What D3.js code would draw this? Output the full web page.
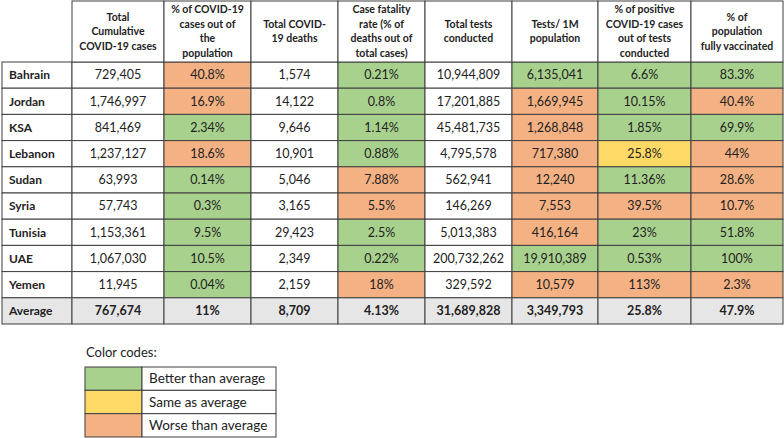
<!DOCTYPE html>
<html>
<head>
<meta charset="utf-8">
<script src="https://cdn.jsdelivr.net/npm/d3@7"></script>
<style>
  body { margin: 0; background: #fff; }
  svg { display: block; font-family: Lato, "Noto Sans", sans-serif; }
</style>
</head>
<body>
<div id="chart"></div>
<script>
// Table data
var countries = ["Bahrain", "Jordan", "KSA", "Lebanon", "Sudan", "Syria", "Tunisia", "UAE", "Yemen"];

var headers = [
    ["Total", "Cumulative", "COVID-19 cases"],
    ["% of COVID-19", "cases out of", "the", "population"],
    ["Total COVID-", "19 deaths"],
    ["Case fatality", "rate (% of", "deaths out of", "total cases)"],
    ["Total tests", "conducted"],
    ["Tests/ 1M", "population"],
    ["% of positive", "COVID-19 cases", "out of tests", "conducted"],
    ["% of", "population", "fully vaccinated"]
];

var totalCases = ["729,405", "1,746,997", "841,469", "1,237,127", "63,993", "57,743", "1,153,361", "1,067,030", "11,945"];
var pctPopulation = ["40.8%", "16.9%", "2.34%", "18.6%", "0.14%", "0.3%", "9.5%", "10.5%", "0.04%"];
var totalDeaths = ["1,574", "14,122", "9,646", "10,901", "5,046", "3,165", "29,423", "2,349", "2,159"];
var fatalityRate = ["0.21%", "0.8%", "1.14%", "0.88%", "7.88%", "5.5%", "2.5%", "0.22%", "18%"];
var totalTests = ["10,944,809", "17,201,885", "45,481,735", "4,795,578", "562,941", "146,269", "5,013,383", "200,732,262", "329,592"];
var testsPerMillion = ["6,135,041", "1,669,945", "1,268,848", "717,380", "12,240", "7,553", "416,164", "19,910,389", "10,579"];
var pctPositive = ["6.6%", "10.15%", "1.85%", "25.8%", "11.36%", "39.5%", "23%", "0.53%", "113%"];
var pctVaccinated = ["83.3%", "40.4%", "69.9%", "44%", "28.6%", "10.7%", "51.8%", "100%", "2.3%"];

var averages = ["767,674", "11%", "8,709", "4.13%", "31,689,828", "3,349,793", "25.8%", "47.9%"];

// Rating per cell: B = better, S = same, W = worse, "" = not coloured
var rateCases = ["", "", "", "", "", "", "", "", ""];
var ratePopulation = ["W", "W", "B", "W", "B", "B", "B", "B", "B"];
var rateDeaths = ["", "", "", "", "", "", "", "", ""];
var rateFatality = ["B", "B", "B", "B", "W", "W", "B", "B", "W"];
var rateTests = ["", "", "", "", "", "", "", "", ""];
var ratePerMillion = ["B", "W", "W", "W", "W", "W", "W", "B", "W"];
var ratePositive = ["B", "B", "B", "S", "B", "W", "B", "B", "W"];
var rateVaccinated = ["B", "W", "B", "W", "W", "W", "B", "B", "W"];

var legendCodes = ["B", "S", "W"];
var legendLabels = ["Better than average", "Same as average", "Worse than average"];

var columns = [totalCases, pctPopulation, totalDeaths, fatalityRate, totalTests, testsPerMillion, pctPositive, pctVaccinated];
var ratings = [rateCases, ratePopulation, rateDeaths, rateFatality, rateTests, ratePerMillion, ratePositive, rateVaccinated];

function init() {
    var w = 784;
    var h = 438;

    // column edges (label column + 8 data columns)
    var edges = [2, 72, 164, 251, 338, 425, 512, 598, 691, 783];
    var headTop = 1, headBottom = 62, tableBottom = 324;

    var fill = d3.scaleOrdinal()
        .domain(["B", "S", "W", "", "avg"])
        .range(["#a9d18e", "#ffd966", "#f4b183", "#ffffff", "#e7e6e6"]);

    var rowNames = countries.concat(["Average"]);
    var y = d3.scaleBand()
        .domain(rowNames)
        .range([headBottom, tableBottom]);

    var colX = function (i) { return edges[i]; };
    var colW = function (i) { return edges[i + 1] - edges[i]; };

    var svg = d3.select("#chart")
        .append("svg")
        .attr("width", w)
        .attr("height", h);

    var border = "#3f3f3f";
    var ink = "#222";

    // build cell list
    var cells = [];
    rowNames.forEach(function (name, r) {
        var isAvg = name === "Average";
        cells.push({ row: name, col: 0, text: name, fill: isAvg ? "avg" : "", bold: true, left: true });
        columns.forEach(function (vals, c) {
            cells.push({
                row: name,
                col: c + 1,
                text: isAvg ? averages[c] : vals[r],
                fill: isAvg ? "avg" : ratings[c][r],
                bold: isAvg
            });
        });
    });

    var g = svg.append("g");

    g.selectAll("rect.cell")
        .data(cells)
        .enter()
        .append("rect")
        .attr("class", "cell")
        .attr("x", function (d) { return colX(d.col); })
        .attr("y", function (d) { return y(d.row); })
        .attr("width", function (d) { return colW(d.col); })
        .attr("height", y.bandwidth())
        .attr("fill", function (d) { return fill(d.fill); })
        .attr("stroke", border)
        .attr("stroke-width", 1);

    g.selectAll("text.cell")
        .data(cells)
        .enter()
        .append("text")
        .attr("class", "cell")
        .attr("x", function (d) { return d.left ? colX(d.col) + 7 : colX(d.col) + colW(d.col) / 2; })
        .attr("y", function (d) { return y(d.row) + y.bandwidth() / 2; })
        .attr("dy", "0.35em")
        .attr("text-anchor", function (d) { return d.left ? "start" : "middle"; })
        .attr("font-size", function (d) { return d.left ? 12 : 12.5; })
        .attr("font-weight", function (d) { return d.bold ? "bold" : "normal"; })
        .attr("fill", ink)
        .text(function (d) { return d.text; });

    // header cells
    var head = g.selectAll("g.head")
        .data(headers)
        .enter()
        .append("g")
        .attr("class", "head");

    head.append("rect")
        .attr("x", function (d, i) { return colX(i + 1); })
        .attr("y", headTop)
        .attr("width", function (d, i) { return colW(i + 1); })
        .attr("height", headBottom - headTop)
        .attr("fill", "#fff")
        .attr("stroke", border);

    var lineH = 14.6;
    head.append("text")
        .attr("text-anchor", "middle")
        .attr("font-size", 10.5)
        .attr("font-weight", "bold")
        .attr("fill", ink)
        .each(function (d, i) {
            var t = d3.select(this);
            var cx = colX(i + 1) + colW(i + 1) / 2;
            var cy = (headTop + headBottom) / 2 - (d.length - 1) * lineH / 2;
            d.forEach(function (line, k) {
                t.append("tspan")
                    .attr("x", cx)
                    .attr("y", cy + k * lineH)
                    .attr("dy", "0.35em")
                    .text(line);
            });
        });

    // legend
    var lg = svg.append("g");
    lg.append("text")
        .attr("x", 86)
        .attr("y", 352)
        .attr("dy", "0.35em")
        .attr("font-size", 13)
        .attr("fill", ink)
        .text("Color codes:");

    var ly = d3.scaleBand()
        .domain(legendCodes)
        .range([367, 437]);

    var items = lg.selectAll("g.item")
        .data(legendCodes)
        .enter()
        .append("g")
        .attr("class", "item");

    items.append("rect")
        .attr("x", 85)
        .attr("y", function (d) { return ly(d); })
        .attr("width", 57)
        .attr("height", ly.bandwidth())
        .attr("fill", function (d) { return fill(d); })
        .attr("stroke", border);

    items.append("rect")
        .attr("x", 142)
        .attr("y", function (d) { return ly(d); })
        .attr("width", 134)
        .attr("height", ly.bandwidth())
        .attr("fill", "#fff")
        .attr("stroke", border);

    items.append("text")
        .attr("x", 149)
        .attr("y", function (d) { return ly(d) + ly.bandwidth() / 2; })
        .attr("dy", "0.35em")
        .attr("font-size", 13.5)
        .attr("fill", ink)
        .text(function (d, i) { return legendLabels[i]; });
}

window.onload = init;
</script>
</body>
</html>
